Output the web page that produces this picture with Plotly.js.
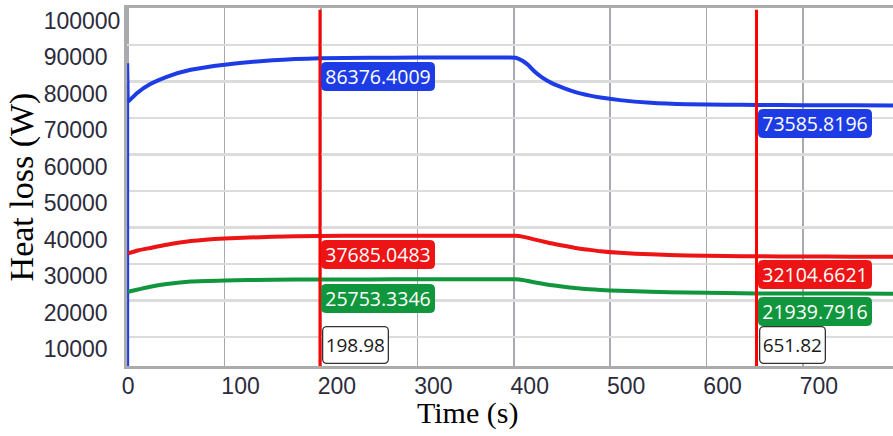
<!DOCTYPE html>
<html>
<head>
<meta charset="utf-8">
<script src="https://cdn.plot.ly/plotly-3.0.1.min.js"></script>
<style>
  html, body { margin: 0; padding: 0; background: #ffffff; }
  #chart { width: 893px; height: 436px; }
</style>
</head>
<body>
<div id="chart"></div>
<script>
// ---- data ----
const time = [0, 10, 23, 40, 65, 100, 150, 198.98, 250, 300, 350, 395, 402, 409, 415, 421, 430, 440, 452, 464, 478, 490, 510, 542, 580, 620, 651.82, 700, 750, 794];
const blueLoss = [74500, 77000, 79300, 81300, 83200, 84600, 85800, 86376.4, 86500, 86550, 86580, 86600, 86520, 85700, 84500, 82900, 81000, 79500, 78200, 77100, 76200, 75600, 74900, 74200, 73800, 73650, 73585.8, 73500, 73470, 73450];
const redLoss = [32900, 33700, 34400, 35300, 36300, 37000, 37450, 37685.0, 37720, 37740, 37750, 37750, 37730, 37500, 37150, 36750, 36200, 35600, 35000, 34400, 33900, 33500, 33050, 32650, 32350, 32200, 32104.7, 32050, 32020, 32000];
const greenLoss = [22400, 23000, 23780, 24500, 25200, 25500, 25680, 25753.3, 25780, 25800, 25800, 25800, 25790, 25620, 25330, 25000, 24600, 24150, 23750, 23400, 23100, 22880, 22650, 22400, 22180, 22050, 21939.8, 21900, 21890, 21880];
// start-up transient of the blue series
const startTime = [0, 0, 0.6];
const blueStart = [0, 85000, 74500];
// cursors and their read-outs
const cursorTimes = [198.98, 651.82];
const cursorBlue = [86376.4009, 73585.8196];
const cursorRed = [37685.0483, 32104.6621];
const cursorGreen = [25753.3346, 21939.7916];
// tick labels
const xTickVals = [0, 100, 200, 300, 400, 500, 600, 700];
const xTickText = ['0\u00a0\u00a0\u00a0\u00a0\u00a0', '100', '200', '300', '400', '500', '600', '700'];
const yTickVals = [10000, 20000, 30000, 40000, 50000, 60000, 70000, 80000, 90000, 100000];
const yTickText = ['10000\u00a0\u00a0', '20000\u00a0\u00a0', '30000\u00a0\u00a0', '40000\u00a0\u00a0', '50000\u00a0\u00a0', '60000\u00a0\u00a0', '70000\u00a0\u00a0', '80000\u00a0\u00a0', '90000\u00a0\u00a0', '100000'];

const BLUE = '#1e3ce6', RED = '#ec1414', GREEN = '#10963c';

const traces = [
  { x: startTime, y: blueStart, mode: 'lines', line: { color: BLUE, width: 2 }, hoverinfo: 'skip', showlegend: false },
  { x: time, y: greenLoss, mode: 'lines', line: { color: GREEN, width: 4, shape: 'spline', smoothing: 0.5 }, name: 'Green', showlegend: false },
  { x: time, y: redLoss, mode: 'lines', line: { color: RED, width: 4, shape: 'spline', smoothing: 0.5 }, name: 'Red', showlegend: false },
  { x: time, y: blueLoss, mode: 'lines', line: { color: BLUE, width: 4, shape: 'spline', smoothing: 0.5 }, name: 'Blue', showlegend: false }
];

const shapes = cursorTimes.map(t => ({
  type: 'line', xref: 'x', yref: 'paper', x0: t, x1: t, y0: 0, y1: 0.995,
  line: { color: '#ff0000', width: 3 }, layer: 'above'
}));

const labelFont = { family: 'Open Sans, Liberation Sans, Arial, sans-serif', size: 19.5, color: '#ffffff' };
const annotations = [];
function valueLabel(t, v, bg) {
  annotations.push({
    x: t, y: v, xref: 'x', yref: 'y', xanchor: 'left', yanchor: 'top',
    xshift: 1.5, yshift: -4, showarrow: false,
    text: v.toFixed(4), font: labelFont,
    bgcolor: bg, bordercolor: bg, borderwidth: 1, borderpad: 2,
    width: 108, height: 23
  });
}
cursorTimes.forEach((t, i) => {
  valueLabel(t, cursorBlue[i], BLUE);
  valueLabel(t, cursorRed[i], RED);
  valueLabel(t, cursorGreen[i], GREEN);
  annotations.push({
    x: t, y: 0, xref: 'x', yref: 'paper', xanchor: 'left', yanchor: 'bottom',
    xshift: 2, yshift: 2, showarrow: false,
    text: t.toFixed(2),
    font: { family: 'Open Sans, Liberation Sans, Arial, sans-serif', size: 19, color: '#1a1a1a' },
    bgcolor: '#ffffff', bordercolor: '#333333', borderwidth: 1.3, borderpad: 3,
    width: 58, height: 29
  });
});
annotations.push({
  x: 0.444, y: -0.13, xref: 'paper', yref: 'paper', xanchor: 'center', yanchor: 'middle',
  showarrow: false, text: 'Time (s)',
  font: { family: 'Liberation Serif, Times New Roman, serif', size: 30, color: '#000000' }
});

const tickFont = { family: 'Liberation Sans, Arial, sans-serif', size: 23, color: '#2b2b3b' };

const layout = {
  width: 893, height: 436,
  margin: { l: 127, r: 0, t: 8, b: 70, pad: 0 },
  paper_bgcolor: '#ffffff', plot_bgcolor: '#ffffff',
  showlegend: false,
  xaxis: {
    range: [-1.2, 793.4], autorange: false,
    tickmode: 'array', tickvals: xTickVals, ticktext: xTickText,
    tickfont: tickFont, ticks: '', ticklabelshift: 16, ticklabelstandoff: -3,
    showgrid: true, gridcolor: '#a9a9b2', gridwidth: 1.5,
    zeroline: false, showline: true, linecolor: '#ababab', linewidth: 3, mirror: true,
    automargin: false
  },
  yaxis: {
    range: [2055, 100137], autorange: false,
    tickmode: 'array', tickvals: yTickVals, ticktext: yTickText,
    tickfont: tickFont, ticks: '', ticklabelshift: 12, ticklabelstandoff: -1,
    showgrid: true, gridcolor: '#dcdcdc', gridwidth: 2.5,
    zeroline: false, showline: true, linecolor: '#ababab', linewidth: 3, mirror: false,
    automargin: false,
    title: { text: 'Heat loss (W)', font: { family: 'Liberation Serif, Times New Roman, serif', size: 34, color: '#000000' }, standoff: 0 }
  },
  shapes: shapes,
  annotations: annotations
};

Plotly.newPlot('chart', traces, layout, { displayModeBar: false, staticPlot: true }).then(() => {
  document.querySelectorAll('.annotation rect.bg').forEach(r => {
    r.setAttribute('rx', 4);
    r.setAttribute('ry', 4);
  });
});
</script>
</body>
</html>
